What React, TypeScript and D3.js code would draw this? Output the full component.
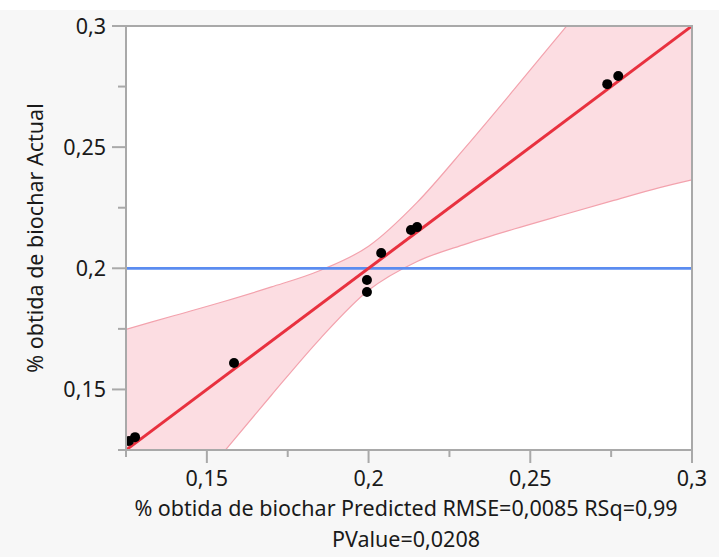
import React from "react";
import * as d3 from "d3";

// Data (leverage plot: actual vs predicted)
const predicted = [0.1259, 0.1278, 0.1584, 0.1995, 0.1995, 0.2039, 0.2131, 0.215, 0.2738, 0.2772];
const actual = [0.1287, 0.1303, 0.1609, 0.1952, 0.1902, 0.2063, 0.2158, 0.217, 0.276, 0.2794];

// Confidence band edges
const bandX = [0.125, 0.14, 0.155, 0.17, 0.185, 0.2, 0.215, 0.23, 0.245, 0.26, 0.275, 0.29, 0.3];
const bandLower = [0.0752, 0.0995, 0.1238, 0.1477, 0.1709, 0.1909, 0.2028, 0.21, 0.2162, 0.222, 0.2277, 0.2333, 0.2365];
const bandUpper = [0.1748, 0.1805, 0.1862, 0.1923, 0.1991, 0.2091, 0.2272, 0.25, 0.2738, 0.298, 0.3223, 0.3467, 0.363];

// Fit line endpoints (actual = predicted)
const fitX = [0.125, 0.3];
const fitY = [0.125, 0.3];

const domain = [0.125, 0.3];
const majorTicks = [0.15, 0.2, 0.25, 0.3];
const minorTicks = [0.125, 0.175, 0.225, 0.275];

const xTitle = "% obtida de biochar Predicted RMSE=0,0085 RSq=0,99";
const xTitle2 = "PValue=0,0208";
const yTitle = "% obtida de biochar Actual";

const W = 719;
const H = 557;
const L = 126, R = 692, T = 26, B = 450;
const FONT = "'Noto Sans', 'Open Sans', sans-serif";
const FS = 21.5;
const AXIS = "#a9a9a9";

const fmt = (v: number) => String(+v.toFixed(3)).replace(".", ",");

export default function App() {
  const x = d3.scaleLinear().domain(domain).range([L, R]);
  const y = d3.scaleLinear().domain(domain).range([B, T]);
  const meanY = d3.mean(actual) as number;

  const bandData = bandX.map((bx, i) => ({ x: bx, lo: bandLower[i], hi: bandUpper[i] }));
  const area = d3.area<any>().x((d) => x(d.x)).y0((d) => y(d.lo)).y1((d) => y(d.hi)).curve(d3.curveMonotoneX);
  const lineLo = d3.line<any>().x((d) => x(d.x)).y((d) => y(d.lo)).curve(d3.curveMonotoneX);
  const lineHi = d3.line<any>().x((d) => x(d.x)).y((d) => y(d.hi)).curve(d3.curveMonotoneX);
  const fitLine = d3.line<number>().x((d) => x(d)).y((_, i) => y(fitY[i]));

  return (
    <svg width={W} height={H} style={{ position: "absolute", left: 0, top: 0 }}>
      <defs>
        <clipPath id="plotclip">
          <rect x={L} y={T} width={R - L} height={B - T} />
        </clipPath>
      </defs>
      <rect x={0} y={0} width={W} height={H} fill="#ffffff" />
      <rect x={0} y={10} width={W} height={H - 10} fill="#f7f7f7" />
      <rect x={L} y={T} width={R - L} height={B - T} fill="#ffffff" />
      <g clipPath="url(#plotclip)">
        <path d={area(bandData) || ""} fill="#fcdde2" />
        <path d={lineLo(bandData) || ""} fill="none" stroke="#f3a2ad" strokeWidth={1.2} />
        <path d={lineHi(bandData) || ""} fill="none" stroke="#f3a2ad" strokeWidth={1.2} />
        <line x1={L} x2={R} y1={y(meanY)} y2={y(meanY)} stroke="#5b8cf0" strokeWidth={2.6} />
        <path d={fitLine(fitX) || ""} fill="none" stroke="#e8313f" strokeWidth={3} />
        {predicted.map((p, i) => (
          <circle key={i} cx={x(p)} cy={y(actual[i])} r={5} fill="#000" />
        ))}
      </g>
      {/* frame */}
      <rect x={L} y={T} width={R - L} height={B - T} fill="none" stroke={AXIS} strokeWidth={2} />
      {/* y ticks */}
      {majorTicks.map((t) => (
        <g key={"ym" + t}>
          <line x1={L - 14} x2={L} y1={y(t)} y2={y(t)} stroke={AXIS} strokeWidth={2} />
          <text x={106} y={y(t)} dy="0.35em" textAnchor="end" fontFamily={FONT} fontSize={FS} fill="#1a1a1a">
            {fmt(t)}
          </text>
        </g>
      ))}
      {minorTicks.map((t) => (
        <line key={"yn" + t} x1={L - 8} x2={L} y1={y(t)} y2={y(t)} stroke={AXIS} strokeWidth={2} />
      ))}
      {/* x ticks */}
      {majorTicks.map((t) => (
        <g key={"xm" + t}>
          <line x1={x(t)} x2={x(t)} y1={B} y2={B + 13} stroke={AXIS} strokeWidth={2} />
          <text x={x(t)} y={486} textAnchor="middle" fontFamily={FONT} fontSize={FS} fill="#1a1a1a">
            {fmt(t)}
          </text>
        </g>
      ))}
      {minorTicks.map((t) => (
        <line key={"xn" + t} x1={x(t)} x2={x(t)} y1={B} y2={B + 7} stroke={AXIS} strokeWidth={2} />
      ))}
      <text x={406} y={516} textAnchor="middle" fontFamily={FONT} fontSize={FS} fill="#1a1a1a">
        {xTitle}
      </text>
      <text x={406} y={547} textAnchor="middle" fontFamily={FONT} fontSize={FS} fill="#1a1a1a">
        {xTitle2}
      </text>
      <text
        transform={`translate(43, ${(T + B) / 2}) rotate(-90)`}
        textAnchor="middle"
        fontFamily={FONT}
        fontSize={FS}
        fill="#1a1a1a"
      >
        {yTitle}
      </text>
    </svg>
  );
}
